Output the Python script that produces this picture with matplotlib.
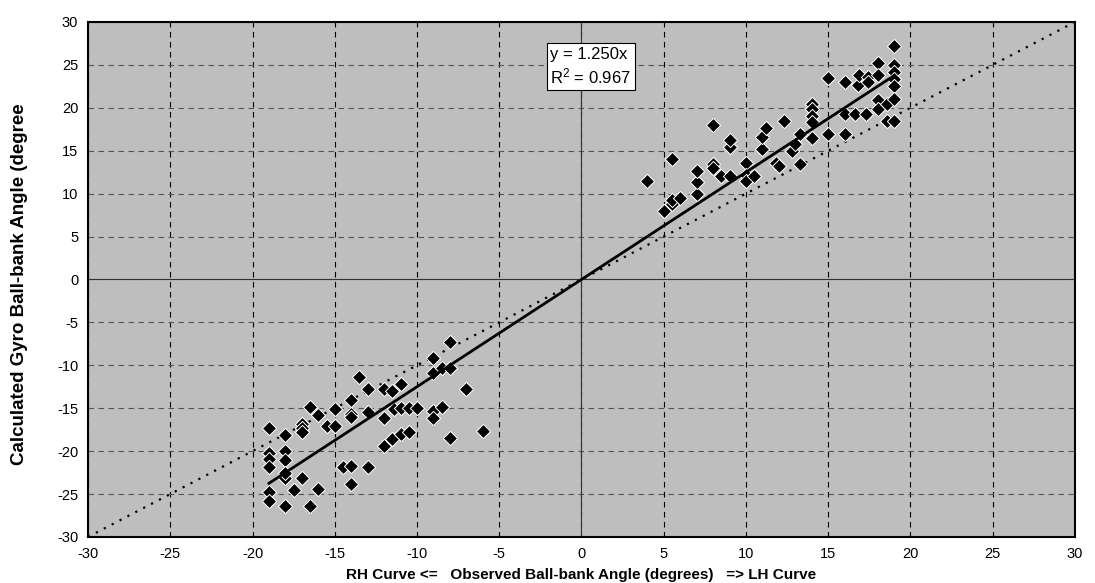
import numpy as np
import matplotlib
matplotlib.use("Agg")
import matplotlib.pyplot as plt

# observed ball-bank angle (deg) vs calculated gyro ball-bank angle (deg)
# RH curves (negative side)
rh_obs = [-19, -19, -19, -19, -19, -19,
          -18, -18, -18, -18, -18, -18,
          -17, -17, -17, -17, -17.5,
          -16.5, -16.5, -16, -16,
          -15.5, -15, -15,
          -14.5, -14, -14, -14, -14, -14,
          -13.5, -13, -13, -13,
          -12, -12, -12, -11.5, -11.5, -11.4,
          -11, -11, -11, -10.5, -10.5, -10,
          -9, -9, -9, -9, -8.5, -8.5, -8, -8, -8,
          -7, -6]
rh_gyro = [-17.3, -20.2, -20.9, -21.9, -24.8, -25.8,
           -18.1, -20.0, -21.0, -23.1, -26.4, -22.5,
           -16.8, -17.3, -17.8, -23.1, -24.5,
           -14.9, -26.4, -15.8, -24.4,
           -17.1, -15.1, -17.1,
           -21.9, -14.0, -15.7, -16.0, -21.7, -23.8,
           -11.4, -12.8, -15.5, -21.9,
           -12.8, -16.1, -19.4, -13.0, -18.6, -15.1,
           -12.2, -15.0, -18.0, -15.0, -17.8, -15.0,
           -9.1, -10.9, -15.3, -16.1, -10.3, -14.9, -10.3, -7.3, -18.5,
           -12.8, -17.6]

# LH curves (positive side)
lh_obs = [4, 5.5, 5, 5.5, 5.5, 6,
          7, 7, 7, 8, 8, 8, 8.5, 9, 9, 9,
          10, 10, 10, 10.5, 11, 11, 11.2, 11.8, 12, 12.3,
          12.8, 13, 13.3, 13.3,
          14, 14, 14, 14, 14,
          15, 15, 16, 16, 16.6, 17.3, 16, 16.8, 16.9, 17.4, 17.4,
          18, 18, 18, 18, 18.6, 18.6,
          19, 19, 19, 19, 19, 19, 19]
lh_gyro = [11.5, 14.0, 8.0, 8.8, 9.3, 9.5,
           10.0, 11.4, 12.6, 13.4, 13.0, 18.0, 12.0, 12.0, 15.4, 16.2,
           13.6, 12.2, 11.5, 12.0, 15.2, 16.6, 17.6, 13.6, 13.2, 18.5,
           15.0, 15.8, 17.0, 13.4,
           20.5, 19.9, 19.1, 18.3, 16.5,
           23.5, 17.0, 17.0, 19.3, 19.3, 19.3, 23.0, 22.6, 23.8, 23.6, 23.0,
           25.2, 23.8, 20.9, 19.9, 20.5, 18.5,
           27.2, 25.0, 24.2, 23.4, 22.5, 21.0, 18.5]

slope = 1.25
r2 = 0.967
ticks = list(range(-30, 31, 5))

x = np.array(rh_obs + lh_obs)
y = np.array(rh_gyro + lh_gyro)

plt.rcParams["axes.unicode_minus"] = False
plt.rcParams["font.family"] = ["Liberation Sans", "DejaVu Sans"]

fig = plt.figure(figsize=(10.95, 5.83), dpi=100)
ax = fig.add_axes([0.0804, 0.079, 0.9013, 0.8833])
ax.set_facecolor("#bebebe")

ax.set_xlim(-30, 30)
ax.set_ylim(-30, 30)
ax.set_xticks(ticks)
ax.set_yticks(ticks)

# dashed grid, solid lines through the origin
ax.grid(axis="x", color="black", linestyle=(0, (5, 4)), linewidth=0.8)
ax.grid(axis="y", color="#555555", linestyle=(0, (5, 4)), linewidth=0.8)
ax.axhline(0, color="#333333", linewidth=0.8, zorder=1)
ax.axvline(0, color="#333333", linewidth=0.8, zorder=1)
ax.set_axisbelow(True)

# 1:1 line
ax.plot([-30, 30], [-30, 30], color="black", linestyle=(0, (1, 3)),
        linewidth=1.6, zorder=2)

ax.scatter(x, y, marker="D", s=52, color="black", edgecolors="white",
           linewidths=0.7, zorder=3)

# linear trend through origin
xfit = np.array([x.min(), x.max()])
ax.plot(xfit, slope * xfit, color="black", linewidth=2.0, zorder=4)

ax.text(-1.9, 24.8, f"y = {slope:.3f}x\n$\\mathregular{{R^2}}$ = {r2:.3f}",
        fontsize=12, va="center", ha="left", linespacing=1.3, zorder=5,
        bbox=dict(boxstyle="square,pad=0.22", facecolor="white",
                  edgecolor="black", linewidth=0.8))

for s in ax.spines.values():
    s.set_color("black")
    s.set_linewidth(1.5)

ax.tick_params(length=0, pad=7, labelsize=10.5)

ax.set_xlabel("RH Curve <=   Observed Ball-bank Angle (degrees)   => LH Curve",
              fontsize=11, fontweight="bold", labelpad=5)
ax.set_ylabel("Calculated Gyro Ball-bank Angle (degree",
              fontsize=13.5, fontweight="bold")
ax.yaxis.set_label_coords(-0.061, 0.49)

fig.savefig("out.png", dpi=100)
